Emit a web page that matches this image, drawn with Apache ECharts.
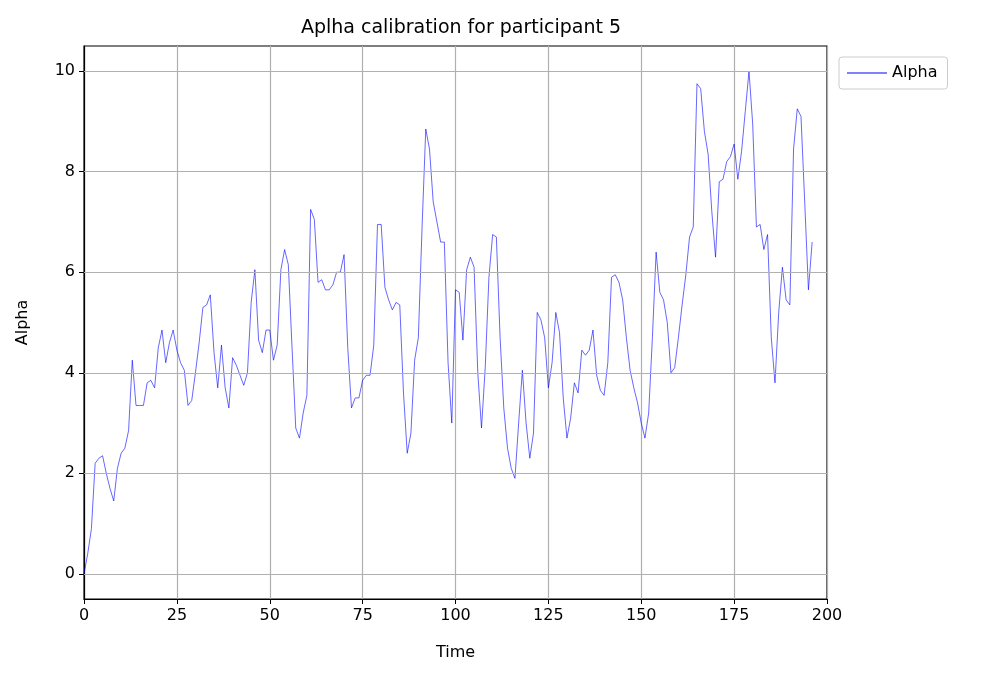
<!DOCTYPE html>
<html>
<head>
<meta charset="utf-8">
<script src="https://cdn.jsdelivr.net/npm/echarts@6/dist/echarts.min.js"></script>
<style>
html, body { margin: 0; padding: 0; background: #fff; }
#chart { width: 988px; height: 678px; }
</style>
</head>
<body>
<div id="chart"></div>
<script>
// values, one per time step 0..196
var alpha = [
    0.0, 0.4, 0.9, 2.2, 2.3, 2.35, 2.0, 1.7, 1.45, 2.1,
    2.4, 2.5, 2.85, 4.25, 3.35, 3.35, 3.35, 3.8, 3.85, 3.7,
    4.5, 4.85, 4.2, 4.6, 4.85, 4.45, 4.2, 4.05, 3.35, 3.45,
    4.0, 4.6, 5.3, 5.35, 5.55, 4.4, 3.7, 4.55, 3.7, 3.3,
    4.3, 4.15, 3.95, 3.75, 4.0, 5.4, 6.05, 4.65, 4.4, 4.85,
    4.85, 4.25, 4.55, 6.05, 6.45, 6.15, 4.5, 2.9, 2.7, 3.2,
    3.55, 7.25, 7.05, 5.8, 5.85, 5.65, 5.65, 5.75, 6.0, 6.0,
    6.35, 4.5, 3.3, 3.5, 3.5, 3.85, 3.95, 3.95, 4.55, 6.95,
    6.95, 5.7, 5.45, 5.25, 5.4, 5.35, 3.6, 2.4, 2.8, 4.25,
    4.7, 6.9, 8.85, 8.45, 7.4, 7.0, 6.6, 6.6, 4.2, 3.0,
    5.65, 5.6, 4.65, 6.05, 6.3, 6.1, 4.0, 2.9, 4.1, 5.9,
    6.75, 6.7, 4.7, 3.3, 2.5, 2.1, 1.9, 3.0, 4.05, 3.0,
    2.3, 2.8, 5.2, 5.05, 4.7, 3.7, 4.2, 5.2, 4.8, 3.5,
    2.7, 3.1, 3.8, 3.6, 4.45, 4.35, 4.45, 4.85, 3.95, 3.65,
    3.55, 4.2, 5.9, 5.95, 5.8, 5.45, 4.7, 4.05, 3.7, 3.4,
    3.0, 2.7, 3.2, 4.7, 6.4, 5.6, 5.45, 5.0, 4.0, 4.1,
    4.7, 5.35, 5.95, 6.7, 6.9, 9.75, 9.65, 8.8, 8.35, 7.2,
    6.3, 7.8, 7.85, 8.2, 8.3, 8.55, 7.85, 8.4, 9.2, 10.0,
    8.95, 6.9, 6.95, 6.45, 6.75, 4.7, 3.8, 5.2, 6.1, 5.45,
    5.35, 8.45, 9.25, 9.1, 7.4, 5.65, 6.6
];
var yTicks = [0, 2, 4, 6, 8, 10];

var seriesData = alpha.map(function (v, i) { return [i, v]; });
var font = 'DejaVu Sans';

var myChart = echarts.init(document.getElementById('chart'));

var option = {
    animation: false,
    textStyle: { fontFamily: font },
    title: {
        text: 'Aplha calibration for participant 5',
        left: 456, top: 14, textAlign: 'center',
        textStyle: { fontFamily: font, fontSize: 19, fontWeight: 'normal', color: '#000' }
    },
    legend: {
        left: 839, top: 57,
        orient: 'vertical',
        padding: [8, 10, 8, 8],
        borderColor: '#ccc', borderWidth: 1, borderRadius: 3,
        itemWidth: 40, itemHeight: 1,
        icon: 'rect',
        textStyle: { fontFamily: font, fontSize: 16, color: '#000' },
        data: ['Alpha']
    },
    grid: { left: 84, right: 161, top: 46, bottom: 79, show: true, borderColor: '#000', borderWidth: 1.2 },
    xAxis: {
        type: 'value', min: 0, max: 200, interval: 25,
        name: 'Time', nameLocation: 'middle', nameGap: 46,
        nameTextStyle: { fontFamily: font, fontSize: 16, color: '#000' },
        axisLine: { onZero: false, lineStyle: { color: '#000', width: 1.2 } },
        axisTick: { length: 5, lineStyle: { color: '#000' } },
        axisLabel: { fontFamily: font, fontSize: 16, color: '#000', margin: 9 },
        splitLine: { show: true, lineStyle: { color: '#b0b0b0', width: 1.2 } }
    },
    yAxis: {
        type: 'value', min: -0.5, max: 10.5,
        name: 'Alpha', nameLocation: 'middle', nameGap: 53,
        nameTextStyle: { fontFamily: font, fontSize: 16, color: '#000' },
        axisLine: { show: true, lineStyle: { color: '#000', width: 1.2 } },
        axisTick: { show: true, length: 5, customValues: yTicks, lineStyle: { color: '#000' } },
        axisLabel: { fontFamily: font, fontSize: 16, color: '#000', margin: 9, customValues: yTicks },
        splitLine: { show: false }
    },
    series: [{
        name: 'Alpha',
        type: 'line',
        data: seriesData,
        showSymbol: false,
        lineStyle: { color: '#0000ff', width: 0.6 },
        itemStyle: { color: '#0000ff' },
        markLine: {
            silent: true, symbol: 'none', label: { show: false },
            lineStyle: { color: '#b0b0b0', width: 1.2, type: 'solid' },
            data: yTicks.map(function (t) { return { yAxis: t }; })
        },
        z: 3
    }]
};

myChart.setOption(option);
</script>
</body>
</html>
